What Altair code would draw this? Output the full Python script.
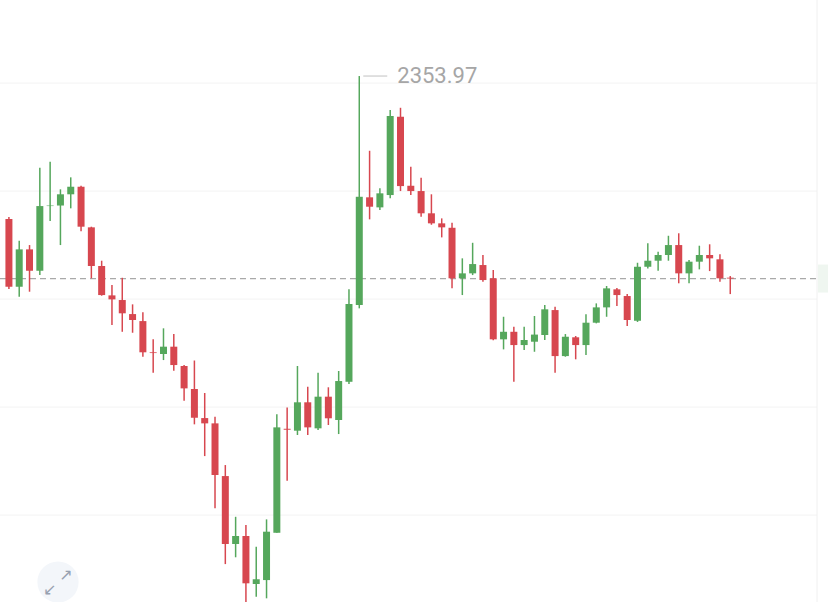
import altair as alt
import pandas as pd

# OHLC price bars
opens = [2340.73, 2334.46, 2337.92, 2335.94, 2341.93, 2341.98, 2343.02, 2343.72, 2339.96, 2336.38,
         2333.66, 2333.23, 2331.93, 2331.28, 2328.39, 2328.23, 2328.91, 2327.12, 2324.99, 2322.30,
         2321.81, 2316.93, 2310.64, 2311.38, 2306.93, 2307.30, 2311.68, 2321.31, 2321.13, 2323.76,
         2321.35, 2324.28, 2322.12, 2325.66, 2332.77, 2342.74, 2341.81, 2342.95, 2350.20, 2343.81,
         2343.32, 2341.26, 2340.33, 2339.92, 2335.24, 2335.70, 2336.47, 2335.24, 2329.59, 2330.29,
         2329.06, 2329.37, 2329.99, 2332.30, 2328.04, 2329.78, 2329.06, 2331.13, 2332.55, 2334.22,
         2333.60, 2331.31, 2336.31, 2336.87, 2337.40, 2338.32, 2335.70, 2336.78, 2337.40, 2337.00,
         2335.30]
highs = [2340.91, 2338.72, 2338.32, 2345.48, 2346.03, 2343.48, 2344.59, 2343.81, 2340.02, 2336.87,
         2334.62, 2335.29, 2332.83, 2332.09, 2329.59, 2330.61, 2330.08, 2327.21, 2327.63, 2324.62,
         2322.42, 2317.95, 2313.16, 2312.40, 2310.39, 2312.92, 2322.65, 2323.29, 2327.12, 2325.20,
         2326.50, 2325.15, 2326.66, 2334.22, 2353.97, 2347.05, 2343.57, 2350.82, 2351.03, 2345.57,
         2344.55, 2343.02, 2340.79, 2340.39, 2337.09, 2338.53, 2337.40, 2336.01, 2331.68, 2330.76,
         2330.76, 2331.75, 2332.77, 2332.61, 2330.08, 2329.90, 2331.91, 2332.92, 2334.53, 2334.35,
         2333.78, 2336.68, 2338.48, 2337.70, 2339.18, 2339.41, 2336.93, 2338.26, 2338.39, 2337.46,
         2335.45]
lows = [2334.25, 2333.53, 2334.00, 2335.54, 2340.54, 2338.32, 2341.72, 2339.59, 2335.24, 2333.63,
        2330.91, 2330.29, 2330.20, 2327.98, 2326.50, 2327.67, 2326.68, 2323.91, 2321.72, 2318.78,
        2313.94, 2308.78, 2309.41, 2304.90, 2305.76, 2305.61, 2311.68, 2316.50, 2320.73, 2320.73,
        2321.20, 2321.66, 2320.82, 2325.45, 2332.46, 2340.70, 2341.56, 2342.65, 2343.32, 2342.95,
        2340.94, 2340.20, 2339.03, 2334.31, 2333.69, 2335.54, 2334.92, 2329.50, 2328.66, 2325.66,
        2328.60, 2328.44, 2329.53, 2326.50, 2327.98, 2327.74, 2328.14, 2331.07, 2331.68, 2332.67,
        2330.82, 2331.20, 2336.16, 2335.94, 2336.87, 2334.78, 2334.78, 2336.07, 2335.91, 2334.92,
        2333.78]
closes = [2334.46, 2337.92, 2335.94, 2341.93, 2341.98, 2343.02, 2343.72, 2340.02, 2336.38, 2333.69,
          2333.29, 2332.00, 2331.38, 2328.39, 2328.32, 2328.91, 2327.21, 2325.05, 2322.33, 2321.81,
          2317.03, 2310.64, 2311.38, 2307.00, 2307.37, 2311.78, 2321.44, 2321.22, 2323.76, 2321.44,
          2324.28, 2322.28, 2325.73, 2332.86, 2342.79, 2341.87, 2343.11, 2350.27, 2343.78, 2343.32,
          2341.26, 2340.33, 2339.96, 2335.24, 2335.70, 2336.56, 2335.08, 2329.59, 2330.29, 2329.06,
          2329.53, 2330.03, 2332.37, 2328.04, 2329.83, 2329.06, 2331.13, 2332.55, 2334.31, 2333.69,
          2331.38, 2336.31, 2336.87, 2337.40, 2338.32, 2335.70, 2336.78, 2337.40, 2337.09, 2335.24,
          2335.22]

# horizontal price gridlines
grid_levels = [2353.32, 2343.32, 2333.32, 2323.32, 2313.32]

GREEN = "#55a75c"
RED = "#d7474f"

df = pd.DataFrame({
    "bar": list(range(len(opens))),
    "open": opens,
    "high": highs,
    "low": lows,
    "close": closes,
})
df["dir"] = ["up" if c > o else "down" for o, c in zip(opens, closes)]

x_scale = alt.Scale(domain=[-0.38, 79.0], nice=False, zero=False)
y_scale = alt.Scale(domain=[2305.27, 2361.01], nice=False, zero=False)
color = alt.Color("dir:N", scale=alt.Scale(domain=["up", "down"], range=[GREEN, RED]), legend=None)

base = alt.Chart(df)

grid = alt.Chart(pd.DataFrame({"level": grid_levels})).mark_rule(
    color="#f3f3f3", strokeWidth=1
).encode(
    y=alt.Y("level:Q", scale=y_scale, axis=None),
    x=alt.value(0),
    x2=alt.value(817),
)

edge = alt.Chart(pd.DataFrame({"k": [0]})).mark_rule(color="#f0f0f0", strokeWidth=1).encode(
    x=alt.value(817), y=alt.value(0), y2=alt.value(602)
)

wicks = base.mark_rule(strokeWidth=1.5, clip=True).encode(
    x=alt.X("bar:Q", scale=x_scale, axis=None),
    y=alt.Y("low:Q", scale=y_scale, axis=None),
    y2="high:Q",
    color=color,
)

bodies = base.mark_bar(size=7, clip=True).encode(
    x=alt.X("bar:Q", scale=x_scale, axis=None),
    y=alt.Y("open:Q", scale=y_scale, axis=None),
    y2="close:Q",
    color=color,
)

last = alt.Chart(df.iloc[[-1]])

last_line = last.mark_rule(color="#a9a9a9", strokeDash=[6, 4], strokeWidth=1.2).encode(
    y=alt.Y("close:Q", scale=y_scale, axis=None),
    x=alt.value(0),
    x2=alt.value(817),
)

last_tag = last.mark_rect(color="#eff6f0", yOffset=-14, y2Offset=14).encode(
    y=alt.Y("close:Q", scale=y_scale, axis=None),
    y2="close:Q",
    x=alt.value(818),
    x2=alt.value(828),
)

peak = alt.Chart(df.loc[[df["high"].idxmax()]])

peak_leader = peak.mark_rule(color="#c2c2c2", strokeWidth=1, xOffset=4, x2Offset=28).encode(
    x=alt.X("bar:Q", scale=x_scale, axis=None),
    x2="bar:Q",
    y=alt.Y("high:Q", scale=y_scale, axis=None),
)

peak_label = peak.mark_text(
    align="left", baseline="middle", dx=38, fontSize=22, font="Roboto", color="#a6a6a6"
).encode(
    x=alt.X("bar:Q", scale=x_scale, axis=None),
    y=alt.Y("high:Q", scale=y_scale, axis=None),
    text=alt.Text("high:Q", format=".2f"),
)

# expand button in the lower-left corner
icon_df = pd.DataFrame({"k": [0]})
icon_bg = alt.Chart(icon_df).mark_point(filled=True, shape="circle", size=1700, color="#f3f6fa", opacity=1).encode(
    x=alt.value(58), y=alt.value(582)
)
icon_ne = alt.Chart(icon_df).mark_text(text="↗", fontSize=16, color="#97a1b0", font="DejaVu Sans").encode(
    x=alt.value(66), y=alt.value(575)
)
icon_sw = alt.Chart(icon_df).mark_text(text="↙", fontSize=16, color="#97a1b0", font="DejaVu Sans").encode(
    x=alt.value(50), y=alt.value(590)
)

chart = alt.layer(
    grid, edge, last_tag, last_line, wicks, bodies, peak_leader, peak_label, icon_bg, icon_ne, icon_sw
).properties(
    width=828, height=602, padding=0, autosize=alt.AutoSizeParams(type="none"), background="white"
).configure_view(stroke=None)

chart.save("out.html", embed_options={"renderer": "svg", "actions": False})
